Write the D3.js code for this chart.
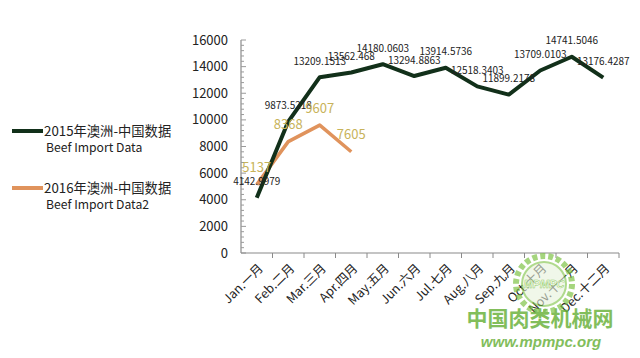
<!DOCTYPE html>
<html><head><meta charset="utf-8">
<script src="https://cdn.jsdelivr.net/npm/d3@7"></script>
<style>body{margin:0;background:#fff;} svg{display:block;}</style>
</head><body>
<script>
const categories = ["Jan.一月","Feb.二月","Mar.三月","Apr.四月","May.五月","Jun.六月","Jul.七月","Aug.八月","Sep.九月","Oct.十月","Nov.十一月","Dec.十二月"];
const data2015 = [4142.9979, 9873.5218, 13209.1513, 13562.468, 14180.0603, 13294.8863, 13914.5736, 12518.3403, 11899.2178, 13709.0103, 14741.5046, 13176.4287];
const data2016 = [5137, 8368, 9607, 7605];
const labels2015 = ["4142.9979","9873.5218","13209.1513","13562.468","14180.0603","13294.8863","13914.5736","12518.3403","11899.2178","13709.0103","14741.5046","13176.4287"];
const yTicks = [0,2000,4000,6000,8000,10000,12000,14000,16000];
const seriesNames = [["2015年澳洲-中国数据","Beef Import Data"],["2016年澳洲-中国数据","Beef Import Data2"]];

const W=640,H=358;
const svg=d3.select("body").append("svg").attr("width",W).attr("height",H);
const font="'Noto Sans CJK SC','Noto Sans',sans-serif";
const x=d3.scaleBand().domain(categories).range([241,619]);
const y=d3.scaleLinear().domain([0,16000]).range([253,40]);
const cx=d=>x(d)+x.bandwidth()/2;

// y axis
const yAxis=svg.append("g").attr("transform","translate(241,0)");
yAxis.append("line").attr("y1",y(16000)).attr("y2",y(0)).attr("stroke","#8a8a8a").attr("stroke-width",1.2);
d3.range(0,16001,400).forEach(v=>{
  yAxis.append("line").attr("x1",0).attr("x2",v%2000===0?5:3).attr("y1",y(v)).attr("y2",y(v)).attr("stroke","#9a9a9a");
});
yTicks.forEach(v=>{
  yAxis.append("text").attr("x",-13).attr("y",y(v)).attr("dy","0.35em").attr("text-anchor","end")
   .attr("font-family",font).attr("font-size",13).attr("fill","#222").text(v);
});
// x axis
const xAxis=svg.append("g");
xAxis.append("line").attr("x1",241).attr("x2",619).attr("y1",253).attr("y2",253).attr("stroke","#8a8a8a").attr("stroke-width",1.2);
categories.forEach((c,i)=>{
  const xb=x(c)+x.bandwidth();
  xAxis.append("line").attr("x1",xb).attr("x2",xb).attr("y1",253).attr("y2",258).attr("stroke","#8a8a8a");
  xAxis.append("text").attr("transform",`translate(${cx(c)+4},${266}) rotate(-45)`).attr("text-anchor","end")
   .attr("dy","0.35em").attr("font-family",font).attr("font-size",12.5).attr("fill","#222").text(c);
});

// lines
const line=d3.line().x((d,i)=>cx(categories[i])).y(d=>y(d));
svg.append("path").datum(data2016).attr("d",line).attr("fill","none").attr("stroke","#e0935c").attr("stroke-width",3.5).attr("stroke-linejoin","round");
svg.append("path").datum(data2015).attr("d",line).attr("fill","none").attr("stroke","#12301a").attr("stroke-width",4).attr("stroke-linejoin","round");

// labels
data2015.forEach((v,i)=>{
  svg.append("text").attr("x",cx(categories[i])).attr("y",y(v)-16).attr("dy","0.35em").attr("text-anchor","middle")
   .attr("font-family",font).attr("font-size",10).attr("fill","#222").text(labels2015[i]);
});
data2016.forEach((v,i)=>{
  svg.append("text").attr("x",cx(categories[i])).attr("y",y(v)-17).attr("dy","0.35em").attr("text-anchor","middle")
   .attr("font-family",font).attr("font-size",13).attr("fill","#c8b35a").text(v);
});

// legend
const leg=[{c:"#12301a",y:131},{c:"#e0935c",y:188}];
leg.forEach((l,i)=>{
  svg.append("line").attr("x1",12).attr("x2",43).attr("y1",l.y).attr("y2",l.y).attr("stroke",l.c).attr("stroke-width",4);
  svg.append("text").attr("x",44).attr("y",l.y).attr("dy","0.35em").attr("font-family",font).attr("font-size",13.3).attr("fill","#222").text(seriesNames[i][0]);
  svg.append("text").attr("x",46).attr("y",l.y+17).attr("dy","0.35em").attr("font-family",font).attr("font-size",12.2).attr("fill","#222").text(seriesNames[i][1]);
});

// watermark
const wm=svg.append("g").attr("opacity",0.85);
wm.append("circle").attr("cx",544).attr("cy",284).attr("r",28).attr("fill","none").attr("stroke","#7cc242").attr("stroke-width",6).attr("stroke-dasharray","5 3").attr("opacity",0.8);
wm.append("circle").attr("cx",544).attr("cy",284).attr("r",22).attr("fill","#e8f3dc").attr("stroke","#7cc242").attr("stroke-width",2).attr("opacity",0.7);
wm.append("text").attr("x",544).attr("y",284).attr("dy","0.35em").attr("text-anchor","middle").attr("font-family","Arial,sans-serif").attr("font-weight","bold").attr("font-style","italic").attr("font-size",11).attr("fill","#fff").attr("stroke","#7cc242").attr("stroke-width",0.5).text("MPMPC");
wm.append("text").attr("x",540).attr("y",319).attr("dy","0.35em").attr("text-anchor","middle").attr("font-family",font).attr("font-weight","bold").attr("font-size",21).attr("fill","#6db33f").text("中国肉类机械网");
wm.append("text").attr("x",541).attr("y",342).attr("dy","0.35em").attr("text-anchor","middle").attr("font-family","Arial,'Liberation Sans',sans-serif").attr("font-weight","bold").attr("font-style","italic").attr("font-size",15).attr("fill","#6db33f").text("www.mpmpc.org");
</script>
</body></html>
